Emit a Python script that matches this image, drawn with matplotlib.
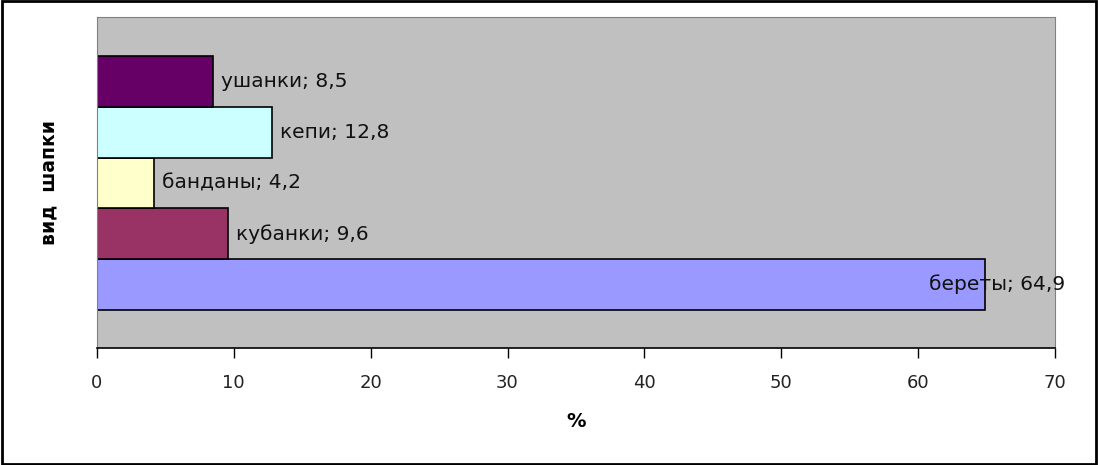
import matplotlib.pyplot as plt
from matplotlib.patches import Rectangle

# wide font, closer to the old Excel bitmap text
plt.rcParams['font.family'] = ['DejaVu Sans']

# data, bottom to top
hats = ['береты', 'кубанки', 'банданы', 'кепи', 'ушанки']
values = [64.9, 9.6, 4.2, 12.8, 8.5]
colors = ['#9999FF', '#993366', '#FFFFCC', '#CCFFFF', '#660066']
xticks = [0, 10, 20, 30, 40, 50, 60, 70]

fig = plt.figure(figsize=(10.98, 4.65), dpi=100)
ax = fig.add_axes([0.0883, 0.2516, 0.8725, 0.7118])
ax.set_facecolor('#C0C0C0')

pos = list(range(len(hats)))
ax.barh(pos, values, height=1.0, color=colors, edgecolor='black', linewidth=1.2)

for i, (name, v) in enumerate(zip(hats, values)):
    label = f'{name}; {str(v).replace(".", ",")}'
    # the long bar gets its label pulled back over the bar end, like Excel
    dx = -56 if v > 60 else 8
    ax.annotate(label, (v, i), xytext=(dx, 0), textcoords='offset pixels',
                ha='left', va='center', fontsize=14.5, color='#111111')

ax.set_xlim(0, 70)
ax.set_ylim(-1.25, 5.27)
ax.set_xticks(xticks)
ax.set_xticklabels([str(t) for t in xticks], fontsize=13, color='#222222')
ax.set_yticks([])
ax.tick_params(axis='x', direction='out', length=7, width=1, pad=12)

ax.set_xlabel('%', fontsize=14, fontweight='bold', labelpad=14)
ax.set_ylabel('вид  шапки', fontsize=13.5, fontweight='bold', labelpad=28)

for s in ['top', 'right', 'left']:
    ax.spines[s].set_color('#808080')
    ax.spines[s].set_linewidth(0.8)
ax.spines['bottom'].set_color('black')
ax.spines['bottom'].set_linewidth(1.2)

fig.patches.append(Rectangle((0.002, 0.003), 0.996, 0.994, transform=fig.transFigure,
                             fill=False, edgecolor='black', linewidth=2))

fig.savefig('out.png', dpi=100)
